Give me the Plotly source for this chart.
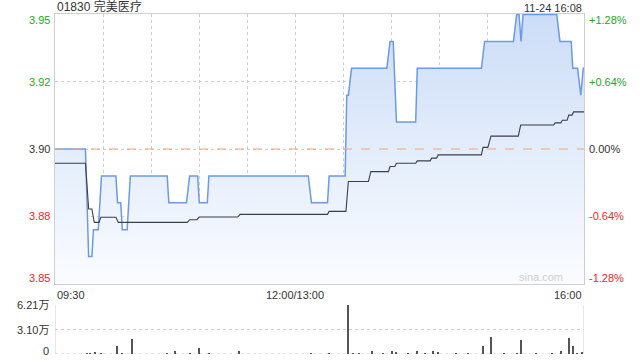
import plotly.graph_objects as go

# ---- data (minute index: 0 = 09:30, 150 = 12:00/13:00, 330 = 16:00) ----
title_text = "01830 完美医疗"
stamp_text = "11-24 16:08"
prev_close = 3.90

price_times = [0, 19, 21, 23, 24, 27, 29, 38, 39, 41, 42, 45, 47, 70, 71, 82, 84, 89, 90, 95, 96,
               158, 160, 170, 171, 181, 182, 183, 185, 207, 209, 211, 213, 225, 226, 266, 268,
               286, 288, 289.5, 290.7, 292, 313, 315, 322, 323, 326, 328, 329.5, 330]
price_values = [3.90, 3.90, 3.86, 3.86, 3.87, 3.87, 3.89, 3.89, 3.88, 3.88, 3.87, 3.87, 3.89, 3.89,
                3.88, 3.88, 3.89, 3.89, 3.88, 3.88, 3.89,
                3.89, 3.88, 3.88, 3.89, 3.89, 3.92, 3.92, 3.93, 3.93, 3.94, 3.94, 3.91, 3.91,
                3.93, 3.93, 3.94,
                3.94, 3.95, 3.95, 3.94, 3.95, 3.95, 3.94, 3.94, 3.93, 3.93, 3.92, 3.93, 3.93]

avg_times = [0, 19, 21, 23, 24.5, 27.5, 28.5, 38, 39.5, 82.5, 84, 88.5, 90, 114, 115.5, 170, 171,
             181.5, 183, 195.5, 197, 208, 209, 212, 213, 225, 226, 234, 235, 238, 239, 266, 267,
             270, 272, 289, 290.5, 311, 312, 315.5, 316.5, 319.5, 320.5, 322.5, 323.5, 330]
avg_values = [3.8947, 3.8947, 3.8777, 3.8777, 3.8727, 3.8727, 3.8746, 3.8746, 3.8727, 3.8727,
              3.8737, 3.8737, 3.8747, 3.8747, 3.8757, 3.8757, 3.8768,
              3.8768, 3.8879, 3.8879, 3.8916, 3.8916, 3.8935, 3.8935, 3.8947, 3.8947, 3.8956,
              3.8956, 3.8966, 3.8966, 3.8978, 3.8978, 3.9006,
              3.9006, 3.9048, 3.9048, 3.9089, 3.9089, 3.9097, 3.9097, 3.9107, 3.9107, 3.9126,
              3.9126, 3.9138, 3.9138]

vol_times = [20, 22, 25, 29, 39, 42, 48, 70, 75, 84, 90, 96, 115, 160, 171, 183, 186, 190, 198, 205,
             210, 213, 220, 226, 231, 236, 239, 250, 258, 267, 272, 280, 288, 291, 300, 310, 316,
             321, 323, 326, 329]
vol_values = [900, 700, 2500, 800, 10000, 900, 19000, 700, 3800, 800, 7600, 700, 3800, 800, 900,
              62100, 1200, 900, 3800, 900, 3800, 2500, 900, 3800, 900, 3800, 2500, 800, 800, 10000,
              21500, 900, 1200, 17700, 800, 900, 3800, 20300, 10000, 1200, 2500]

left_labels = ["3.95", "3.92", "3.90", "3.88", "3.85"]
right_labels = ["+1.28%", "+0.64%", "0.00%", "-0.64%", "-1.28%"]
vol_labels = ["6.21万", "3.10万", "0"]
x_labels = ["09:30", "12:00/13:00", "16:00"]

GREEN = "#1aaa1a"
RED = "#f02828"
DARK = "#333333"
FONT = "Liberation Sans, Arial, Noto Sans CJK SC, sans-serif"

ymin, ymax = 3.8498, 3.9502
vmax = 62100

fig = go.Figure()

fig.add_trace(go.Scatter(
    x=price_times, y=price_values, mode="lines",
    line=dict(color="#6a9ae8", width=1.5),
    fill="tozeroy",
    fillgradient=dict(type="vertical", start=ymin, stop=ymax,
                      colorscale=[[0, "rgba(250,252,255,1)"], [1, "rgba(204,221,247,1)"]]),
    xaxis="x", yaxis="y", hoverinfo="skip", showlegend=False))

fig.add_trace(go.Scatter(
    x=avg_times, y=avg_values, mode="lines",
    line=dict(color="#3a3f48", width=1.1),
    xaxis="x", yaxis="y", hoverinfo="skip", showlegend=False))

fig.add_trace(go.Bar(
    x=vol_times, y=vol_values, width=0.8,
    marker=dict(color="#555555", line=dict(width=0)),
    xaxis="x2", yaxis="y2", hoverinfo="skip", showlegend=False))

grid = dict(showgrid=True, gridcolor="#cfcfcf", griddash="dot", gridwidth=1,
            zeroline=False, showticklabels=False, ticks="",
            showline=True, linecolor="#d0d0d0", linewidth=1, mirror=True)

pct = prev_close * 0.0064
fig.update_layout(
    width=640, height=360,
    margin=dict(l=55, r=56, t=14, b=6),
    paper_bgcolor="white", plot_bgcolor="white",
    font=dict(family=FONT, size=11, color=DARK),
    bargap=0,
    xaxis=dict(range=[0, 330], tickvals=list(range(30, 330, 30)), domain=[0, 1], anchor="y", **grid),
    yaxis=dict(range=[ymin, ymax], tickvals=[prev_close - pct, prev_close, prev_close + pct],
               domain=[0.2059, 1], anchor="x", **grid),
    xaxis2=dict(range=[0, 330], tickvals=[], domain=[0, 1], anchor="y2",
                showgrid=False, zeroline=False, showticklabels=False, ticks="",
                showline=False),
    yaxis2=dict(range=[0, vmax], tickvals=[vmax / 2, vmax], domain=[0, 0.1441], anchor="x2",
                showgrid=True, gridcolor="#cfcfcf", griddash="dot", zeroline=False,
                showticklabels=False, ticks="", showline=False),
)

# volume panel borders
fig.add_shape(type="line", xref="x2", yref="y2", x0=0, x1=0, y0=0, y1=vmax,
              line=dict(color="#d0d0d0", width=1))
fig.add_shape(type="line", xref="x2", yref="y2", x0=330, x1=330, y0=0, y1=vmax,
              line=dict(color="#d0d0d0", width=1))
fig.add_shape(type="line", xref="x2", yref="y2", x0=0, x1=330, y0=0, y1=0,
              line=dict(color="#cfcfcf", width=1, dash="dot"), layer="below")

# previous close dashed line
fig.add_shape(type="line", xref="x", yref="y", x0=0, x1=330, y0=prev_close, y1=prev_close,
              line=dict(color="#f0a47a", width=1, dash="dash"), layer="above")

# title and time stamp
fig.add_annotation(text=title_text, xref="paper", yref="paper", x=0, y=1, xanchor="left",
                   yanchor="bottom", yshift=-2, showarrow=False,
                   font=dict(size=12, color=DARK, family="Liberation Sans, Noto Sans CJK SC"))
fig.add_annotation(text=stamp_text, xref="paper", yref="paper", x=1, y=1, xanchor="right",
                   yanchor="bottom", yshift=-2, showarrow=False, font=dict(size=11, color=DARK))

# y labels (left prices, right percent)
label_vals = [ymax, prev_close + pct, prev_close, prev_close - pct, ymin]
shifts = [-6, 0, 0, 0, 6]
colors = [GREEN, GREEN, DARK, RED, RED]
for v, lt, rt, c, s in zip(label_vals, left_labels, right_labels, colors, shifts):
    fig.add_annotation(text=lt, xref="paper", yref="y", x=0, y=v, xanchor="right", xshift=-3,
                       yshift=s, showarrow=False, font=dict(size=11, color=c))
    fig.add_annotation(text=rt, xref="paper", yref="y", x=1, y=v, xanchor="left", xshift=3,
                       yshift=s, showarrow=False, font=dict(size=11, color=c))

# x labels
for xv, t, anc in zip([0, 150, 330], x_labels, ["left", "center", "right"]):
    fig.add_annotation(text=t, xref="x", yref="paper", x=xv, y=0.2059, xanchor=anc,
                       yanchor="top", yshift=-3, showarrow=False, font=dict(size=11, color=DARK))

# volume labels
for v, t in zip([vmax, vmax / 2, 0], vol_labels):
    fig.add_annotation(text=t, xref="paper", yref="y2", x=0, y=v, xanchor="right", xshift=-4,
                       yshift=(3 if v == 0 else 0), showarrow=False,
                       font=dict(size=11, color=DARK, family="Liberation Sans, Noto Sans CJK SC"))

# watermark
fig.add_annotation(text="sina.com", xref="x", yref="y", x=318, y=ymin, xanchor="right",
                   yanchor="bottom", yshift=-1, showarrow=False,
                   font=dict(size=11, color="#cfcfcf"))

fig.write_html("out.html", config={"displayModeBar": False},
               post_script="document.body.style.margin='0';")
